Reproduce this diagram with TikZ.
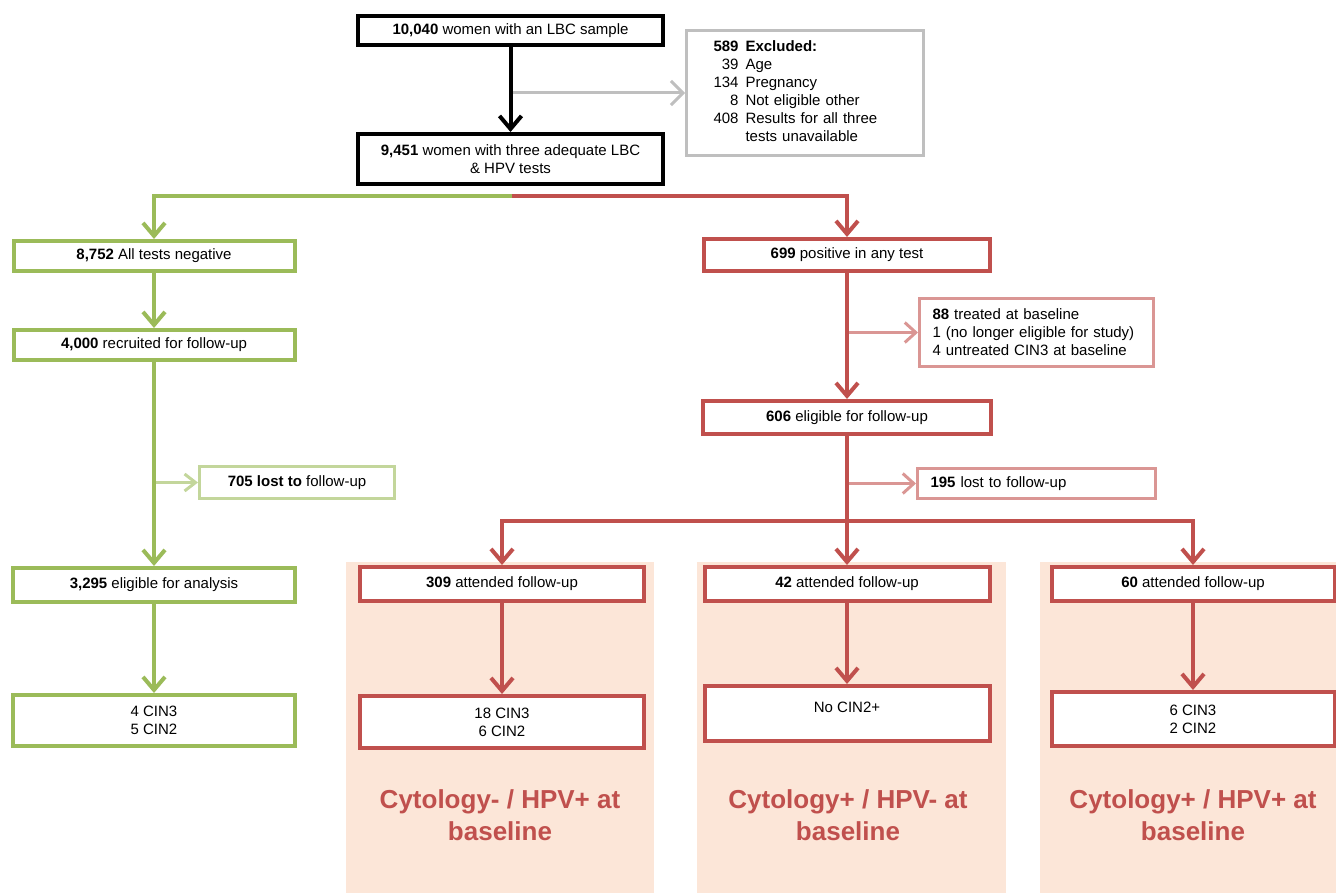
\documentclass[tikz,border=0pt]{standalone}
\usepackage{fontspec}
\setmainfont{Liberation Sans}
\usetikzlibrary{arrows.meta}
\definecolor{cgreen}{HTML}{9BBB59}
\definecolor{clgreen}{HTML}{C3D69B}
\definecolor{cred}{HTML}{C0504D}
\definecolor{cpink}{HTML}{DA9694}
\definecolor{cgray}{HTML}{BFBFBF}
\definecolor{cpeach}{HTML}{FCE6D8}
\begin{document}
\begin{tikzpicture}[x=1pt,y=-1pt,font=\fontsize{15}{18}\selectfont,
  box/.style={draw, rectangle, line width=4pt, fill=white, align=center, inner sep=0pt},
  blackbox/.style={box, draw=black},
  greenbox/.style={box, draw=cgreen},
  redbox/.style={box, draw=cred},
  thinbox/.style={draw, rectangle, line width=3pt, fill=white, inner sep=0pt},
  graybox/.style={thinbox, draw=cgray},
  lgreenbox/.style={thinbox, draw=clgreen, align=center},
  pinkbox/.style={thinbox, draw=cpink},
  bigarr/.style={line width=4pt, -{Straight Barb[length=13pt,width=22pt]}},
  thinarr/.style={line width=3pt, -{Straight Barb[length=11pt,width=20pt]}},
  bigtext/.style={text=cred, font=\fontsize{26}{32}\selectfont\bfseries, align=center}
]
\useasboundingbox (0,0) rectangle (1336,893);
% peach panels
\fill[cpeach] (346,562) rectangle (654,893);
\fill[cpeach] (697,562) rectangle (1006,893);
\fill[cpeach] (1040,562) rectangle (1340,893);

% top
\node[blackbox, minimum width=305, minimum height=29] (box1) at (510.5,30.5) {\textbf{10,040} women with an LBC sample};
\node[blackbox, minimum width=305, minimum height=50] (box2) at (510.5,159) {\textbf{9,451} women with three adequate LBC\\ \& HPV tests};
\node[graybox, minimum width=237, minimum height=125, text width=183, inner xsep=27, align=left] (excl) at (805,93)
  {\begin{tabular}{@{}r@{\hspace{7pt}}l@{}}
   \textbf{589} & \textbf{Excluded:}\\
   39 & Age\\
   134 & Pregnancy\\
   8 & Not eligible other\\
   408 & Results for all three\\
       & tests unavailable
   \end{tabular}};
\draw[thinarr, cgray, -{Straight Barb[length=12pt,width=24pt]}] (box1.south |- excl.west) -- (excl.west);
\draw[bigarr, black] (box1.south) -- (box2.north);

% green branch
\node[greenbox, minimum width=281, minimum height=30] (neg) at (154,256) {\textbf{8,752} All tests negative};
\node[greenbox, minimum width=281, minimum height=30] (rec) at (154,345) {\textbf{4,000} recruited for follow-up};
\node[lgreenbox, minimum width=195, minimum height=32] (lost1) at (297,482.5) {\textbf{705 lost to} follow-up};
\node[greenbox, minimum width=282, minimum height=34] (elig) at (154,585) {\textbf{3,295} eligible for analysis};
\node[greenbox, minimum width=282, minimum height=51] (cin) at (154,720.5) {4 CIN3\\5 CIN2};

% red branch
\node[redbox, minimum width=286, minimum height=32] (pos) at (847,255) {\textbf{699} positive in any test};
\node[pinkbox, minimum width=234, minimum height=68, text width=208, inner xsep=13, align=left] (treated) at (1036.5,332.5)
  {\textbf{88} treated at baseline\\1 (no longer eligible for study)\\4 untreated CIN3 at baseline};
\node[redbox, minimum width=288, minimum height=33] (e606) at (847,417.5) {\textbf{606} eligible for follow-up};
\node[pinkbox, minimum width=238, minimum height=30, text width=212, inner xsep=13, align=left] (lost2) at (1036.5,483.5)
  {\textbf{195} lost to follow-up};

\node[redbox, minimum width=284, minimum height=34] (a309) at (502,584) {\textbf{309} attended follow-up};
\node[redbox, minimum width=285, minimum height=34] (a42) at (847,584) {\textbf{42} attended follow-up};
\node[redbox, minimum width=283, minimum height=34] (a60) at (1193,584) {\textbf{60} attended follow-up};
\node[redbox, minimum width=284, minimum height=52] (r309) at (502,722) {18 CIN3\\6 CIN2};
\node[redbox, minimum width=285, minimum height=55] (r42) at (847,713.5) {No CIN2+\\[-6pt]\mbox{}};
\node[redbox, minimum width=283, minimum height=54] (r60) at (1193,719) {6 CIN3\\2 CIN2};

\node[bigtext] (t1) at (500,815) {Cytology- / HPV+ at\\baseline};
\node[bigtext] (t2) at (848,815) {Cytology+ / HPV- at\\baseline};
\node[bigtext] (t3) at (1193,815) {Cytology+ / HPV+ at\\baseline};

% connectors
\coordinate (split) at (512,196);
\draw[bigarr, cgreen] (split) -| (neg.north);
\draw[bigarr, cred] (split) -| (pos.north);
\draw[bigarr, cgreen] (neg.south) -- (rec.north);
\draw[thinarr, clgreen, -{Straight Barb[length=11pt,width=17pt]}] (rec.south |- lost1.west) -- (lost1.west);
\draw[bigarr, cgreen] (rec.south) -- (elig.north);
\draw[bigarr, cgreen] (elig.south) -- (cin.north);

\draw[thinarr, cpink] (pos.south |- treated.west) -- (treated.west);
\draw[bigarr, cred] (pos.south) -- (e606.north);
\draw[thinarr, cpink] (e606.south |- lost2.west) -- (lost2.west);
\coordinate (rsplit) at (847,521);
\draw[line width=4pt, cred] (e606.south) -- (rsplit);
\draw[bigarr, cred] (rsplit) -| (a309.north);
\draw[bigarr, cred] (rsplit) -- (a42.north);
\draw[bigarr, cred] (rsplit) -| (a60.north);
\draw[bigarr, cred] (a309.south) -- (r309.north);
\draw[bigarr, cred] (a42.south) -- (r42.north);
\draw[bigarr, cred] (a60.south) -- (r60.north);
\end{tikzpicture}
\end{document}
